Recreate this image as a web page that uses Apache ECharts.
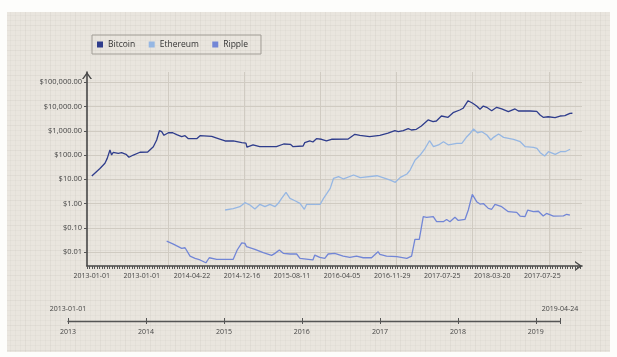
<!DOCTYPE html>
<html><head><meta charset="utf-8">
<script src="https://cdn.jsdelivr.net/npm/echarts@6/dist/echarts.min.js"></script>
<style>html,body{margin:0;padding:0;background:#fdfdfb}#c{width:617px;height:357px}</style>
</head><body><div id="c"></div>
<script>
// ---------------- data ----------------
const seriesNames = ['Bitcoin', 'Ethereum', 'Ripple'];

const btcDates = ['2013-01-01','2013-02-09','2013-03-05','2013-03-16','2013-03-29','2013-04-06','2013-04-14','2013-05-08','2013-05-24','2013-06-14','2013-06-28','2013-07-19','2013-08-20','2013-09-26','2013-10-23','2013-11-08','2013-11-21','2013-12-02','2013-12-13','2014-01-03','2014-01-24','2014-02-12','2014-03-08','2014-03-24','2014-04-09','2014-05-19','2014-06-04','2014-07-30','2014-08-23','2014-10-02','2014-11-10','2014-12-21','2015-01-10','2015-01-15','2015-02-13','2015-03-17','2015-06-05','2015-07-10','2015-08-11','2015-08-24','2015-10-11','2015-10-19','2015-11-12','2015-11-27','2015-12-14','2016-01-07','2016-01-31','2016-02-24','2016-05-14','2016-06-15','2016-07-09','2016-08-25','2016-10-13','2016-11-21','2016-12-24','2017-01-09','2017-02-02','2017-02-26','2017-03-13','2017-04-06','2017-04-30','2017-06-01','2017-06-25','2017-07-11','2017-08-04','2017-09-05','2017-09-29','2017-10-31','2017-11-16','2017-12-10','2018-01-01','2018-01-20','2018-02-05','2018-02-21','2018-03-09','2018-04-02','2018-04-26','2018-05-20','2018-06-21','2018-07-23','2018-08-08','2018-10-03','2018-11-04','2018-11-20','2018-12-05','2018-12-29','2019-01-31','2019-02-24','2019-03-19','2019-04-12','2019-04-24'];
const btcValues = [13.6,28,46,73,161,100,130,118,125,107,81,100,130,133,221,417,1008,918,652,832,832,690,571,630,472,472,630,590,500,380,380,325,310,210,260,221,221,285,277,221,236,325,380,345,472,447,380,447,457,717,652,571,652,794,1008,918,1008,1222,1080,1150,1578,2790,2372,2535,4075,3600,5580,7210,8470,17400,13600,10500,7700,10500,9330,6760,9330,7940,6150,7940,6560,6560,6300,4470,3600,3800,3470,4070,4200,5250,5300];

const ethDates = ['2014-10-02','2014-10-10','2014-11-10','2014-12-12','2015-01-05','2015-01-29','2015-02-22','2015-03-18','2015-04-11','2015-05-05','2015-05-29','2015-06-14','2015-06-30','2015-07-21','2015-08-09','2015-09-02','2015-09-26','2015-10-17','2015-10-28','2016-01-01','2016-01-17','2016-02-02','2016-02-18','2016-03-05','2016-03-29','2016-04-22','2016-06-09','2016-07-11','2016-09-29','2016-12-02','2016-12-26','2017-01-19','2017-02-20','2017-03-07','2017-03-31','2017-04-24','2017-05-18','2017-06-08','2017-06-27','2017-07-21','2017-08-14','2017-09-07','2017-10-17','2017-11-10','2017-12-04','2017-12-20','2018-01-05','2018-01-24','2018-02-14','2018-03-10','2018-03-29','2018-04-11','2018-05-05','2018-05-29','2018-07-16','2018-08-17','2018-09-10','2018-10-20','2018-11-05','2018-11-21','2018-12-12','2018-12-30','2019-02-01','2019-02-25','2019-03-20','2019-04-13'];
const ethValues = [0.54,0.64,0.62,0.74,1.08,0.87,0.59,0.93,0.74,0.93,0.74,1.02,1.64,2.9,1.64,1.3,1.02,0.58,0.93,0.93,1.64,2.6,4.2,11,12.8,10.3,15,11.6,14,9.3,7.5,12,16.5,24,62,100,190,390,221,260,355,260,305,305,571,790,1186,830,918,670,417,537,738,537,447,355,221,209,190,125,91,137,107,137,137,173];

const xrpDates = ['2013-12-26','2014-01-27','2014-03-08','2014-03-24','2014-04-17','2014-05-11','2014-05-19','2014-06-04','2014-07-02','2014-07-18','2014-08-23','2014-11-10','2014-11-29','2014-12-21','2015-01-05','2015-01-13','2015-02-22','2015-04-03','2015-05-13','2015-05-29','2015-06-19','2015-07-08','2015-08-09','2015-09-10','2015-09-26','2015-11-05','2015-11-27','2015-12-06','2015-12-30','2016-01-23','2016-02-08','2016-03-11','2016-04-20','2016-05-22','2016-06-23','2016-07-25','2016-09-03','2016-10-04','2016-10-13','2016-11-14','2017-01-02','2017-02-19','2017-03-14','2017-03-30','2017-04-20','2017-05-09','2017-05-25','2017-06-26','2017-07-12','2017-08-13','2017-08-29','2017-09-14','2017-10-08','2017-10-24','2017-11-25','2017-12-11','2017-12-30','2018-01-20','2018-02-05','2018-02-21','2018-03-17','2018-04-02','2018-04-18','2018-05-20','2018-06-21','2018-07-31','2018-08-16','2018-09-09','2018-09-22','2018-10-19','2018-11-12','2018-12-05','2018-12-21','2019-01-23','2019-03-12','2019-03-28','2019-04-12'];
const xrpValues = [0.028,0.021,0.0142,0.015,0.0068,0.0055,0.0064,0.0047,0.0036,0.0058,0.005,0.005,0.0121,0.024,0.0228,0.0166,0.0129,0.0094,0.0073,0.0088,0.0121,0.0088,0.0083,0.0083,0.0055,0.005,0.0047,0.0075,0.006,0.0055,0.0083,0.0088,0.0068,0.006,0.0068,0.0058,0.0058,0.0103,0.008,0.0068,0.0064,0.0055,0.0068,0.033,0.033,0.286,0.27,0.286,0.178,0.178,0.22,0.178,0.27,0.2,0.22,0.54,2.4,1.19,0.95,1.0,0.63,0.58,0.93,0.74,0.46,0.43,0.305,0.29,0.54,0.46,0.48,0.305,0.39,0.305,0.31,0.36,0.33];

const mainTickLabels = ['2013-01-01','2013-01-01','2014-04-22','2014-12-16','2015-08-11','2016-04-05','2016-11-29','2017-07-25','2018-03-20','2017-07-25'];
const yearGridDates = ['2014-01-01','2015-01-01','2016-01-01','2017-01-01','2018-01-01','2019-01-01'];
const timelineYearLabels = ['2013','2014','2015','2016','2017','2018','2019'];
const timelineRange = ['2013-01-01','2019-04-24'];

// ---------------- helpers ----------------
const DAY = 86400000;
function toMs(s) { const p = s.split('-').map(Number); return Date.UTC(p[0], p[1] - 1, p[2]); }
const t0 = toMs('2013-01-01');
function toDay(s) { return Math.round((toMs(s) - t0) / DAY); }
function pairs(d, v) { return d.map((s, i) => [toDay(s), v[i]]); }
function money(v) {
  const s = Number(v).toFixed(2).split('.');
  return '$' + s[0].replace(/\B(?=(\d{3})+(?!\d))/g, ',') + '.' + s[1];
}
const xMin = -23, xMax = 2350;
const labelDays = mainTickLabels.map((_, i) => i * 240);
const denseTicks = [];
for (let t = xMin; t <= xMax; t += 12) denseTicks.push(t);
const yearDays = yearGridDates.map(toDay);
const tlStart = toDay(timelineRange[0]), tlEnd = toDay(timelineRange[1]);
const tlYearDays = timelineYearLabels.map(y => toDay(y + '-01-01'));

// background pattern (fine paper grid)
const pc = document.createElement('canvas'); pc.width = 25; pc.height = 25;
const g = pc.getContext('2d');
g.fillStyle = '#e9e5de'; g.fillRect(0, 0, 25, 25);
g.fillStyle = 'rgba(120,105,80,0.035)';
for (let i = 0; i < 25; i += 5) { g.fillRect(i, 0, 1, 25); g.fillRect(0, i, 25, 1); }
g.fillStyle = 'rgba(120,105,80,0.03)';
g.fillRect(0, 0, 1, 25); g.fillRect(0, 0, 25, 1);

const arrow = 'path://M5,0L10,7L8.4,7L5,2.24L1.6,7L0,7Z';
const font = 'Open Sans';
const axisDark = '#474747';
const gridCol = '#d0cbc2';

const chart = echarts.init(document.getElementById('c'), null, { renderer: 'canvas' });
chart.setOption({
  animation: false,
  backgroundColor: '#fdfdfb',
  textStyle: { fontFamily: font },
  graphic: [{
    type: 'rect', z: -10, silent: true,
    shape: { x: 7, y: 12, width: 603, height: 340 },
    style: { fill: { image: pc, repeat: 'repeat' } }
  }],
  legend: {
    left: 92, top: 35, padding: [5, 13, 5, 5],
    itemWidth: 6, itemHeight: 6, itemGap: 13.5, icon: 'rect',
    borderColor: '#a19d96', borderWidth: 1,
    textStyle: { fontSize: 8.5, color: '#333', fontFamily: font },
    data: seriesNames
  },
  grid: [
    { left: 87, top: 72, right: 35, bottom: 91, containLabel: false },
    { left: 68, right: 57, top: 321, height: 0, containLabel: false }
  ],
  xAxis: [
    { type: 'value', gridIndex: 0, min: xMin, max: xMax, position: 'bottom',
      axisLine: { show: false, onZero: false }, axisTick: { show: false, customValues: yearDays },
      axisLabel: { show: false }, splitLine: { show: true, lineStyle: { color: gridCol, width: 1 } } },
    { type: 'value', gridIndex: 0, min: xMin, max: xMax, position: 'bottom',
      axisLine: { show: true, onZero: false, lineStyle: { color: axisDark, width: 1.6 },
        symbol: ['none', arrow], symbolSize: [10, 7], symbolOffset: [0, -3.5] },
      axisTick: { show: true, customValues: denseTicks, length: 3, lineStyle: { color: '#555', width: 1 } },
      axisLabel: { customValues: labelDays, fontSize: 7, color: '#444', margin: 6, fontFamily: font,
        formatter: v => mainTickLabels[Math.round(v / 240)] },
      splitLine: { show: false } },
    { type: 'value', gridIndex: 1, min: tlStart, max: tlEnd, position: 'bottom',
      axisLine: { show: true, onZero: false, lineStyle: { color: '#555', width: 1.4 } },
      axisTick: { show: true, customValues: tlYearDays.concat([tlEnd]), length: 3, lineStyle: { color: '#555', width: 1 } },
      axisLabel: { customValues: tlYearDays, fontSize: 7, color: '#444', margin: 7, fontFamily: font,
        formatter: v => timelineYearLabels[tlYearDays.indexOf(v)] },
      splitLine: { show: false } },
    { type: 'value', gridIndex: 1, min: tlStart, max: tlEnd, position: 'top',
      axisLine: { show: false, onZero: false },
      axisTick: { show: true, customValues: tlYearDays.concat([tlEnd]), length: 3, lineStyle: { color: '#555', width: 1 } },
      axisLabel: { customValues: [tlStart, tlEnd], fontSize: 7, color: '#444', margin: 9, fontFamily: font,
        formatter: v => (v === tlStart ? timelineRange[0] : timelineRange[1]) },
      splitLine: { show: false } }
  ],
  yAxis: [
    { type: 'log', gridIndex: 0, logBase: 10, min: 0.00265, max: 266000,
      axisLine: { show: true, onZero: false, lineStyle: { color: axisDark, width: 1.6 },
        symbol: ['none', arrow], symbolSize: [10, 7], symbolOffset: [0, -3.5] },
      axisTick: { show: true, length: 3, lineStyle: { color: '#555' } },
      axisLabel: { formatter: money, fontSize: 7.5, color: '#444', margin: 5, fontFamily: font,
        showMinLabel: false, showMaxLabel: false },
      splitLine: { show: true, showMinLine: false, showMaxLine: false, lineStyle: { color: gridCol, width: 1 } } },
    { type: 'value', gridIndex: 1, show: false }
  ],
  series: [
    { name: seriesNames[0], type: 'line', xAxisIndex: 0, yAxisIndex: 0, showSymbol: false,
      data: pairs(btcDates, btcValues), color: '#2f3d8c', lineStyle: { width: 1.3 } },
    { name: seriesNames[1], type: 'line', xAxisIndex: 0, yAxisIndex: 0, showSymbol: false,
      data: pairs(ethDates, ethValues), color: '#96b7e3', lineStyle: { width: 1.3 } },
    { name: seriesNames[2], type: 'line', xAxisIndex: 0, yAxisIndex: 0, showSymbol: false,
      data: pairs(xrpDates, xrpValues), color: '#7286d6', lineStyle: { width: 1.3 } }
  ]
});
</script></body></html>
